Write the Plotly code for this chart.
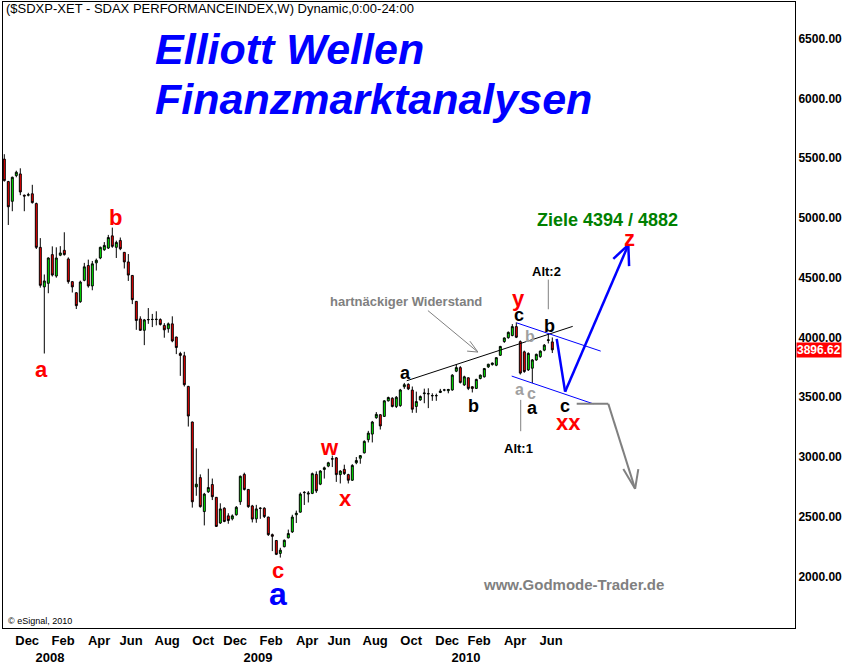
import plotly.graph_objects as go
import pandas as pd
from datetime import datetime, timedelta

# ---------------- data (weekly OHLC) ----------------
START = datetime(2007, 11, 12)

opens = [5492, 5304, 5139, 5354, 5368, 5190, 5190, 5202, 5120, 4754,
         4423, 4453, 4693, 4514, 4688, 4729, 4657, 4467, 4374, 4299,
         4478, 4602, 4431, 4624, 4665, 4734, 4748, 4850, 4754, 4812,
         4712, 4632, 4519, 4302, 4155, 4060, 4148, 4150, 4150, 4150,
         4101, 4073, 4114, 4004, 3866, 3847, 3591, 3293, 2750, 2828,
         2544, 2709, 2770, 2663, 2448, 2572, 2508, 2483, 2517, 2626,
         2855, 2729, 2591, 2483, 2570, 2572, 2498, 2351, 2302, 2194,
         2250, 2324, 2374, 2517, 2539, 2702, 2690, 2696, 2855, 2773,
         2896, 2924, 2983, 2993, 2853, 2897, 2853, 2806, 2952, 2990,
         3035, 3145, 3192, 3329, 3354, 3340, 3470, 3492, 3423, 3430,
         3588, 3608, 3560, 3423, 3478, 3530, 3528, 3512, 3512, 3540,
         3560, 3555, 3561, 3718, 3748, 3603, 3663, 3588, 3574, 3657,
         3671, 3754, 3773, 3768, 3851, 3966, 3998, 4016, 4091, 3965,
         3880, 3729, 3743, 3812, 3839, 3894, 3975, 3963]
highs = [5533, 5310, 5345, 5395, 5415, 5195, 5210, 5277, 5128, 4831,
         4527, 4670, 4762, 4754, 4764, 4880, 4670, 4470, 4380, 4475,
         4624, 4651, 4640, 4660, 4760, 4798, 4858, 4919, 4810, 4836,
         4715, 4698, 4522, 4305, 4177, 4155, 4246, 4197, 4219, 4160,
         4120, 4125, 4177, 4006, 3880, 3880, 3595, 3296, 3073, 2855,
         2700, 2902, 2820, 2665, 2613, 2580, 2530, 2520, 2590, 2845,
         2869, 2732, 2600, 2600, 2580, 2580, 2500, 2360, 2305, 2241,
         2310, 2393, 2517, 2552, 2704, 2715, 2715, 2870, 2880, 2890,
         2920, 2960, 3012, 3000, 2890, 2936, 2860, 2940, 3000, 3015,
         3140, 3219, 3302, 3376, 3360, 3475, 3505, 3500, 3510, 3570,
         3620, 3616, 3590, 3547, 3515, 3572, 3575, 3533, 3530, 3570,
         3570, 3570, 3693, 3776, 3760, 3680, 3665, 3592, 3655, 3690,
         3745, 3780, 3790, 3835, 3930, 4000, 4050, 4112, 4126, 3975,
         3890, 3875, 3820, 3865, 3892, 3945, 4032, 4000]
lows = [5304, 4941, 5056, 5340, 5190, 5056, 5180, 5120, 4740, 4417,
        3866, 4370, 4510, 4500, 4680, 4685, 4450, 4376, 4238, 4290,
        4470, 4417, 4395, 4560, 4655, 4725, 4740, 4750, 4665, 4730,
        4577, 4473, 4279, 4064, 4055, 3936, 4114, 4087, 4101, 4100,
        3998, 4040, 3960, 3861, 3679, 3590, 3255, 2577, 2676, 2577,
        2428, 2700, 2640, 2415, 2440, 2455, 2442, 2470, 2510, 2600,
        2720, 2575, 2453, 2450, 2483, 2490, 2340, 2213, 2180, 2159,
        2245, 2320, 2365, 2448, 2535, 2599, 2620, 2690, 2700, 2765,
        2820, 2915, 2916, 2792, 2779, 2850, 2779, 2800, 2940, 2944,
        3030, 3122, 3122, 3320, 3230, 3335, 3465, 3415, 3410, 3420,
        3570, 3560, 3370, 3370, 3470, 3450, 3409, 3470, 3470, 3535,
        3550, 3533, 3555, 3710, 3615, 3595, 3560, 3540, 3570, 3650,
        3665, 3745, 3765, 3760, 3845, 3955, 3990, 4010, 3995, 3690,
        3705, 3720, 3619, 3805, 3830, 3885, 3950, 3870]
closes = [5312, 5093, 5340, 5382, 5217, 5183, 5194, 5128, 4754, 4436,
          4473, 4665, 4522, 4665, 4707, 4693, 4467, 4423, 4266, 4464,
          4591, 4431, 4616, 4646, 4754, 4770, 4836, 4762, 4795, 4742,
          4632, 4522, 4316, 4142, 4060, 4147, 4150, 4151, 4152, 4109,
          4064, 4114, 3971, 3916, 3850, 3605, 3343, 2626, 2773, 2585,
          2690, 2745, 2668, 2420, 2566, 2461, 2469, 2508, 2580, 2839,
          2729, 2585, 2481, 2566, 2572, 2502, 2351, 2337, 2186, 2221,
          2304, 2360, 2498, 2530, 2690, 2704, 2698, 2861, 2717, 2883,
          2910, 2952, 2985, 2853, 2883, 2861, 2806, 2930, 2971, 3012,
          3131, 3200, 3293, 3357, 3260, 3470, 3498, 3423, 3500, 3561,
          3605, 3570, 3400, 3464, 3506, 3535, 3530, 3514, 3514, 3552,
          3561, 3565, 3685, 3748, 3624, 3671, 3574, 3574, 3649, 3685,
          3740, 3776, 3786, 3831, 3925, 3996, 4043, 4091, 4002, 3702,
          3715, 3867, 3812, 3859, 3886, 3936, 3980, 3896.62]

month_labels = ["Dec", "Feb", "Apr", "Jun", "Aug", "Oct",
                "Dec", "Feb", "Apr", "Jun", "Aug", "Oct",
                "Dec", "Feb", "Apr", "Jun"]
month_first_bars = ["2007-12-03", "2008-02-04", "2008-04-07", "2008-06-02",
                    "2008-08-04", "2008-10-06", "2008-12-01", "2009-02-02",
                    "2009-04-06", "2009-06-01", "2009-08-03", "2009-10-05",
                    "2009-12-07", "2010-02-01", "2010-04-05", "2010-06-07"]
year_labels = ["2008", "2009", "2010"]
year_first_bars = ["2008-01-07", "2009-01-05", "2010-01-04"]

y_ticks = [2000, 2500, 3000, 3500, 4000, 4500, 5000, 5500, 6000, 6500]
last_price = 3896.62

# ---------------------------------------------------------------------------
dates = pd.date_range(START, periods=len(opens), freq="7D")


def wk(w):
    return (START + timedelta(days=7 * w)).strftime("%Y-%m-%d %H:%M")


FONT = "Liberation Sans, Arial, sans-serif"

tickvals = [pd.Timestamp(d) + pd.Timedelta(days=19) for d in month_first_bars] + \
           [pd.Timestamp(d) + pd.Timedelta(days=24) for d in year_first_bars]
ticktext = month_labels + ["<br>" + y for y in year_labels]

fig = go.Figure()
fig.add_trace(go.Candlestick(
    x=dates, open=opens, high=highs, low=lows, close=closes,
    increasing=dict(line=dict(color="black", width=1), fillcolor="#00ff00"),
    decreasing=dict(line=dict(color="black", width=1), fillcolor="#ff0000"),
    whiskerwidth=0, showlegend=False, hoverinfo="skip",
))

shapes = []


def poly(points, color, width):
    for (w0, p0), (w1, p1) in zip(points[:-1], points[1:]):
        shapes.append(dict(type="line", xref="x", yref="y",
                           x0=wk(w0), y0=p0, x1=wk(w1), y1=p1,
                           line=dict(color=color, width=width)))


# resistance line
poly([(100.6, 3638), (142.1, 4093)], "black", 1)
# blue channel
poly([(128.1, 4122), (149.1, 3886)], "#0000ff", 1)
poly([(126.85, 3677), (147.25, 3445)], "#0000ff", 1)
# blue projected path with arrow head
poly([(138.1, 3988), (140.2, 3547), (156.0, 4774)], "#0000ff", 2.5)
poly([(152.25, 4658), (156.0, 4774), (156.2, 4597)], "#0000ff", 2.5)
# gray alternative path with arrow head
poly([(143.1, 3445), (151.0, 3445), (157.7, 2734)], "#808080", 2)
poly([(154.75, 2899), (157.7, 2734), (158.5, 2899)], "#808080", 2)
# thin gray pointer to the resistance
poly([(105.9, 4225), (118.4, 3878)], "#808080", 1)
poly([(116.4, 3969), (118.4, 3878), (115.7, 3886)], "#808080", 1)
# Alt marker lines
poly([(136.0, 4484), (136.0, 4236)], "#808080", 1)
poly([(129.1, 3478), (129.1, 3216)], "#808080", 1)

annotations = []


def lab(text, w, p, size, color, bold=True, dy=-3):
    t = "<b>%s</b>" % text if bold else text
    annotations.append(dict(text=t, x=wk(w), y=p, xref="x", yref="y",
                            showarrow=False, xanchor="center", yanchor="middle",
                            yshift=dy,
                            font=dict(family=FONT, size=size, color=color)))


RED = "#ff0000"
# red wave labels
lab("a", 9.35, 3759, 22, RED)
lab("b", 27.7, 5028, 22, RED)
lab("c", 68.5, 2077, 22, RED)
lab("w", 81.4, 3106, 22, RED)
lab("x", 85.35, 2678, 22, RED)
lab("y", 128.5, 4347, 22, RED)
lab("xx", 141.0, 3313, 22, RED)
lab("z", 156.4, 4856, 22, RED)
lab("a", 68.35, 1878, 32, "#0000ff")
# black sub-wave labels
lab("a", 100.2, 3726, 18, "black")
lab("b", 117.25, 3450, 18, "black")
lab("c", 128.7, 4209, 18, "black")
lab("b", 136.4, 4118, 18, "black")
lab("a", 132.1, 3437, 18, "black")
lab("c", 140.25, 3448, 18, "black")
# gray alternative labels
GR = "#a0a0a0"
lab("b", 131.3, 4035, 16, GR)
lab("a", 128.9, 3588, 16, GR)
lab("c", 131.9, 3555, 16, GR)
lab("Alt:2", 135.6, 4581, 13, "black")
lab("Alt:1", 128.5, 3096, 13, "black")
lab("hartnäckiger Widerstand", 100.4, 4324, 13, "#808080")
lab("Ziele 4394 / 4882", 150.8, 5009, 18, "#008000")
lab("www.Godmode-Trader.de", 142.2, 1975, 15, "#808080", dy=-5)

# header / titles (paper coords)
annotations.append(dict(text="($SDXP-XET - SDAX PERFORMANCEINDEX,W) Dynamic,0:00-24:00",
                        x=0.001, y=0.989, xref="paper", yref="paper",
                        xanchor="left", yanchor="middle", showarrow=False,
                        font=dict(family=FONT, size=13, color="black")))
annotations.append(dict(text="<b><i>Elliott Wellen</i></b>",
                        x=0.19, y=0.925, xref="paper", yref="paper",
                        xanchor="left", yanchor="middle", showarrow=False,
                        font=dict(family=FONT, size=43, color="#0000ff")))
annotations.append(dict(text="<b><i>Finanzmarktanalysen</i></b>",
                        x=0.19, y=0.845, xref="paper", yref="paper",
                        xanchor="left", yanchor="middle", showarrow=False,
                        font=dict(family=FONT, size=43, color="#0000ff")))
annotations.append(dict(text="© eSignal, 2010",
                        x=0.004, y=0.011, xref="paper", yref="paper",
                        xanchor="left", yanchor="middle", showarrow=False,
                        font=dict(family=FONT, size=9, color="black")))
# last price box
annotations.append(dict(text="<b>%.2f</b>" % last_price, x=1, y=last_price,
                        xref="paper", yref="y", xanchor="left", yanchor="middle",
                        xshift=1, showarrow=False, bgcolor="#ff0000", borderpad=0,
                        font=dict(family=FONT, size=12, color="white")))

x0 = START - timedelta(days=2.3)
x1 = START + timedelta(days=1383.7)

fig.update_layout(
    width=845, height=666,
    margin=dict(l=3, r=50, t=1, b=32),
    paper_bgcolor="white", plot_bgcolor="white",
    shapes=shapes, annotations=annotations,
    showlegend=False,
    xaxis=dict(type="date", range=[x0, x1], rangeslider=dict(visible=False),
               showgrid=False, zeroline=False, showline=True, linecolor="black",
               linewidth=1, mirror=True, ticks="", tickangle=0,
               tickmode="array", tickvals=tickvals, ticktext=ticktext,
               tickfont=dict(family=FONT, size=13, color="black", weight="bold")),
    yaxis=dict(side="right", range=[1570, 6806], showgrid=False, zeroline=False,
               showline=True, linecolor="black", linewidth=1, mirror=True,
               ticks="", tickmode="array", tickvals=y_ticks,
               ticktext=["%.2f" % v for v in y_ticks],
               tickfont=dict(family=FONT, size=12, color="black", weight="bold")),
)

fig.write_html("out.html",
               config={"displayModeBar": False},
               post_script="document.body.style.margin='0px';"
                           "document.body.style.overflow='hidden';")
